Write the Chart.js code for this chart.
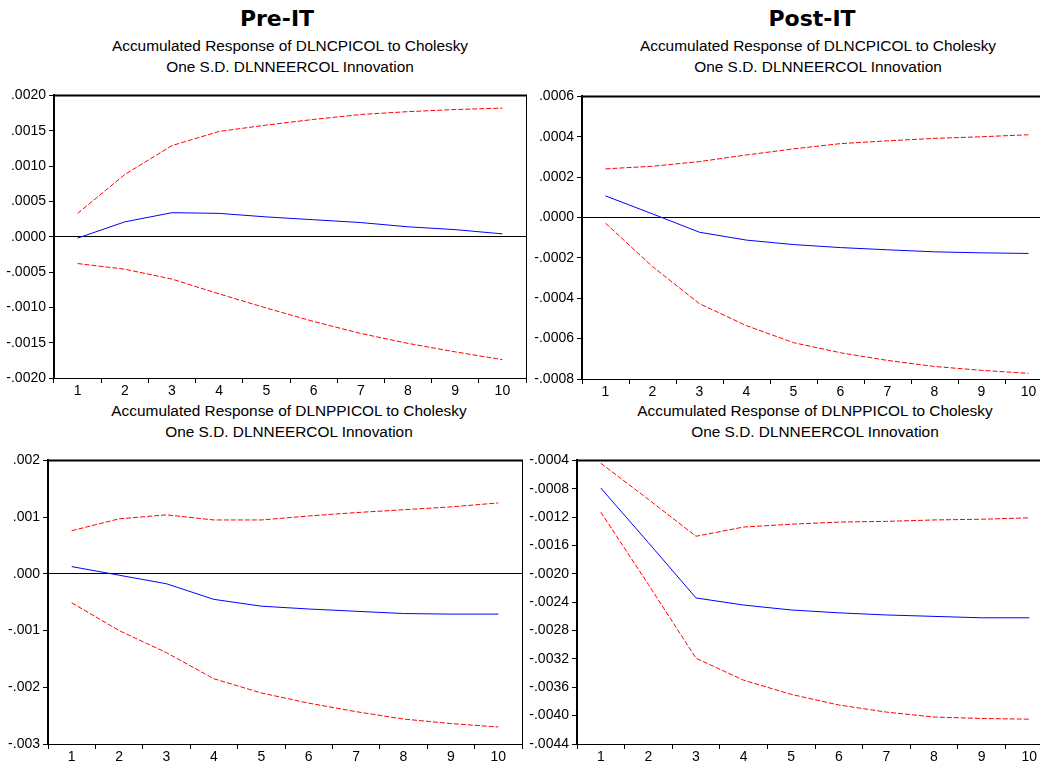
<!DOCTYPE html>
<html>
<head>
<meta charset="utf-8">
<script src="https://cdn.jsdelivr.net/npm/chart.js@4/dist/chart.umd.min.js"></script>
<style>
  body { margin: 0; background: #fff; }
  #wrap { position: relative; width: 1040px; height: 763px; overflow: hidden; background: #fff; }
  #wrap canvas { position: absolute; }
  .head { position: absolute; font-family: "DejaVu Sans", sans-serif; font-weight: bold; font-size: 22px; transform: translateX(-50%); white-space: nowrap; color: #000; }
  .sub { position: absolute; font-family: "Liberation Sans", Arial, sans-serif; font-size: 15.4px; line-height: 21px; text-align: center; transform: translateX(-50%); white-space: nowrap; color: #000; }
</style>
</head>
<body>
<div id="wrap">
  <div class="head" style="left:277px;top:6px">Pre-IT</div>
  <div class="head" style="left:812px;top:6px">Post-IT</div>
  <div class="sub" style="left:290px;top:35px">Accumulated Response of DLNCPICOL to Cholesky<br>One S.D. DLNNEERCOL Innovation</div>
  <div class="sub" style="left:818px;top:35px">Accumulated Response of DLNCPICOL to Cholesky<br>One S.D. DLNNEERCOL Innovation</div>
  <div class="sub" style="left:289px;top:400px">Accumulated Response of DLNPPICOL to Cholesky<br>One S.D. DLNNEERCOL Innovation</div>
  <div class="sub" style="left:815px;top:400px">Accumulated Response of DLNPPICOL to Cholesky<br>One S.D. DLNNEERCOL Innovation</div>

  <canvas id="preCpi" width="536" height="318" style="left:0;top:84px"></canvas>
  <canvas id="postCpi" width="534" height="318" style="left:528px;top:85px"></canvas>
  <canvas id="prePpi" width="532" height="319" style="left:0;top:449px"></canvas>
  <canvas id="postPpi" width="543" height="319" style="left:520px;top:449px"></canvas>
</div>
<script>
// periods after the shock
const periods = ['1', '2', '3', '4', '5', '6', '7', '8', '9', '10'];

// Pre-IT, CPI
const preCpiResp  = [-0.00002, 0.00021, 0.00034, 0.00033, 0.00028, 0.00024, 0.00020, 0.00014, 0.00010, 0.00004];
const preCpiUpper = [0.00033, 0.00088, 0.00129, 0.00149, 0.00158, 0.00166, 0.00173, 0.00177, 0.00180, 0.00182];
const preCpiLower = [-0.00038, -0.00046, -0.00060, -0.00081, -0.00101, -0.00120, -0.00137, -0.00151, -0.00163, -0.00174];
const preCpiTicks = [-0.002, -0.0015, -0.001, -0.0005, 0, 0.0005, 0.001, 0.0015, 0.002];

// Post-IT, CPI
const postCpiResp  = [0.000107, 0.000018, -0.000073, -0.000112, -0.000134, -0.000149, -0.000160, -0.000170, -0.000175, -0.000178];
const postCpiUpper = [0.000241, 0.000254, 0.000277, 0.000310, 0.000340, 0.000366, 0.000380, 0.000392, 0.000400, 0.000410];
const postCpiLower = [-0.000028, -0.000243, -0.000427, -0.000536, -0.000620, -0.000670, -0.000708, -0.000738, -0.000757, -0.000772];
const postCpiTicks = [-0.0008, -0.0006, -0.0004, -0.0002, 0, 0.0002, 0.0004, 0.0006];

// Pre-IT, PPI
const prePpiResp  = [0.000128, -0.000024, -0.000175, -0.00045, -0.00057, -0.00062, -0.00066, -0.00070, -0.00071, -0.00071];
const prePpiUpper = [0.00076, 0.00097, 0.00104, 0.00095, 0.00095, 0.00102, 0.00108, 0.00113, 0.00118, 0.00125];
const prePpiLower = [-0.00051, -0.00100, -0.00139, -0.00185, -0.00210, -0.00228, -0.00243, -0.00256, -0.00264, -0.00270];
const prePpiTicks = [-0.003, -0.002, -0.001, 0, 0.001, 0.002];

// Post-IT, PPI
const postPpiResp  = [-0.00079, -0.00156, -0.00234, -0.00244, -0.00251, -0.00255, -0.00258, -0.00260, -0.00262, -0.00262];
const postPpiUpper = [-0.00044, -0.00095, -0.00147, -0.00134, -0.00130, -0.00127, -0.00126, -0.00124, -0.00123, -0.00121];
const postPpiLower = [-0.00113, -0.00215, -0.00319, -0.00350, -0.00370, -0.00385, -0.00395, -0.00402, -0.00404, -0.00405];
const postPpiTicks = [-0.0044, -0.004, -0.0036, -0.0032, -0.0028, -0.0024, -0.002, -0.0016, -0.0012, -0.0008, -0.0004];

// top + right border of the plot box (EViews frame)
const framePlugin = {
  id: 'frame',
  afterDraw(chart) {
    const { ctx, chartArea: a } = chart;
    ctx.save();
    ctx.strokeStyle = '#000';
    ctx.lineWidth = 2;
    ctx.beginPath(); ctx.moveTo(a.left, a.top); ctx.lineTo(a.right + 1, a.top); ctx.stroke();
    ctx.lineWidth = 1;
    ctx.beginPath(); ctx.moveTo(a.right + 0.5, a.top); ctx.lineTo(a.right + 0.5, a.bottom); ctx.stroke();
    ctx.restore();
  }
};

function fmtTick(v, dec) {
  if (Math.abs(v) < 1e-12) v = 0;
  return v.toFixed(dec).replace('0.', '.');
}

function makePanel(id, resp, upper, lower, ticks, dec, yWidth) {
  const lo = ticks[0], hi = ticks[ticks.length - 1];
  return new Chart(document.getElementById(id), {
    type: 'line',
    data: {
      labels: periods,
      datasets: [
        { data: upper, borderColor: '#ff0000', borderWidth: 1, borderDash: [5, 2] },
        { data: lower, borderColor: '#ff0000', borderWidth: 1, borderDash: [5, 2] },
        { data: resp, borderColor: '#0000ff', borderWidth: 1 }
      ]
    },
    options: {
      responsive: false,
      animation: false,
      devicePixelRatio: 1,
      layout: { padding: { top: 10, right: 10, left: 0, bottom: 0 } },
      elements: { point: { radius: 0, hoverRadius: 0 }, line: { tension: 0 } },
      plugins: { legend: { display: false }, tooltip: { enabled: false } },
      scales: {
        x: {
          offset: true,
          afterFit: s => { s.height = 24; },
          grid: { offset: true, drawOnChartArea: false, tickColor: '#000', tickLength: 5 },
          border: { color: '#000', width: 1 },
          ticks: { color: '#000', padding: 0, maxRotation: 0, font: { family: 'Liberation Sans, Arial', size: 14 } }
        },
        y: {
          min: lo, max: hi,
          afterFit: s => { s.width = yWidth; },
          afterBuildTicks: s => { s.ticks = ticks.map(v => ({ value: v })); },
          grid: {
            color: c => (c.tick && Math.abs(c.tick.value) < 1e-12) ? '#000' : 'rgba(0,0,0,0)',
            tickColor: '#000', tickLength: 5
          },
          border: { color: '#000', width: 2 },
          ticks: { color: '#000', padding: 3, font: { family: 'Liberation Sans, Arial', size: 14 },
                   callback: v => fmtTick(v, dec) }
        }
      }
    },
    plugins: [framePlugin]
  });
}

makePanel('preCpi', preCpiResp, preCpiUpper, preCpiLower, preCpiTicks, 4, 54);
makePanel('postCpi', postCpiResp, postCpiUpper, postCpiLower, postCpiTicks, 4, 54);
makePanel('prePpi', prePpiResp, prePpiUpper, prePpiLower, prePpiTicks, 3, 48);
makePanel('postPpi', postPpiResp, postPpiUpper, postPpiLower, postPpiTicks, 4, 57);
</script>
</body>
</html>
